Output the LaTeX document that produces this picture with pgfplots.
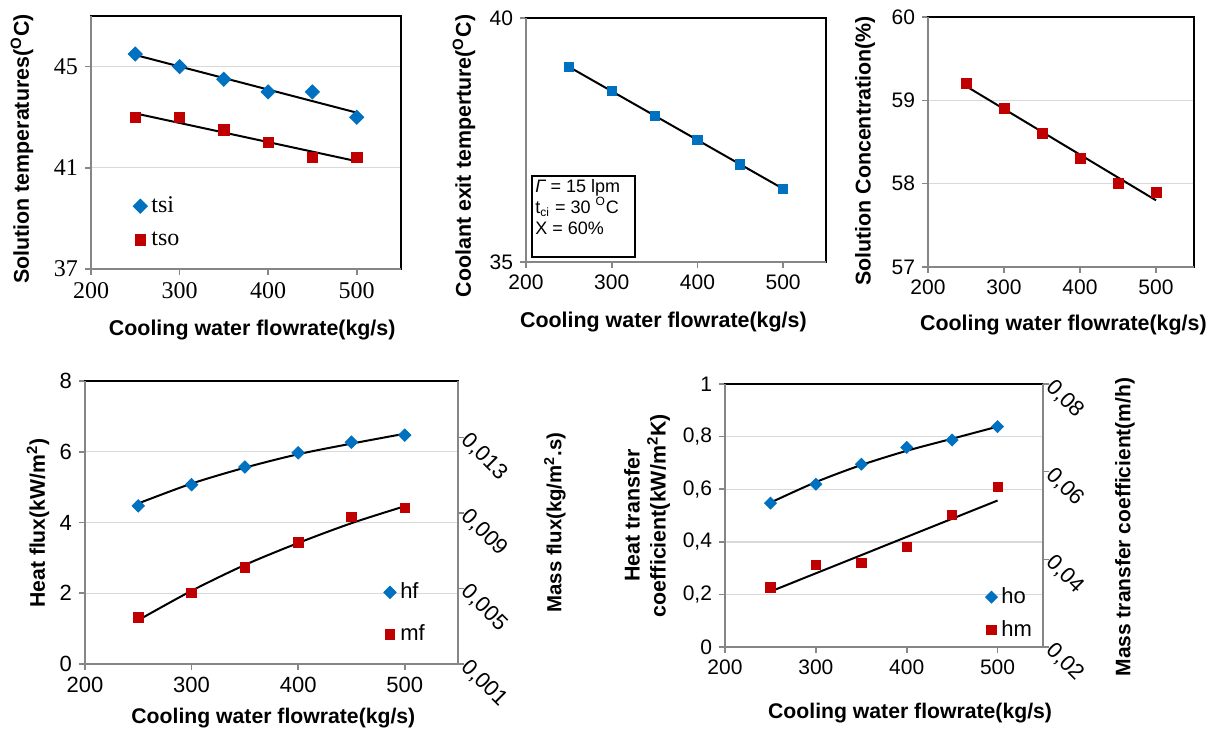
\documentclass[border=0pt]{standalone}
\usepackage{fontspec}
\setmainfont{Liberation Sans}
\newfontfamily\serifnum{Liberation Serif}
\usepackage{pgfplots}
\pgfplotsset{compat=1.18}

\definecolor{xlblue}{RGB}{0,112,192}
\definecolor{xlred}{RGB}{192,0,0}
\definecolor{axgray}{RGB}{134,134,134}
\definecolor{grd}{RGB}{217,217,217}

\pgfplotsset{
  panel/.style={
    scale only axis, anchor=south west,
    xmin=200, xmax=550, xtick={200,300,400,500},
    tick align=outside, xtick pos=bottom, ytick pos=left,
    major tick length=3pt,
    tick style={axgray, line width=0.8pt},
    axis line style={black, line width=0.8pt},
    ymajorgrids, major grid style={grd, line width=0.7pt},
    clip=false,
    /pgf/number format/assume math mode=true,
    x label style={anchor=center},
    y label style={anchor=center},
    legend style={draw=none, fill=none, inner sep=0pt, legend cell align=left},
    legend image code/.code={\draw[mark repeat=2,mark phase=2,##1] plot coordinates {(0pt,0pt) (3pt,0pt) (6pt,0pt)};},
  },
  second/.style={
    scale only axis, anchor=south west,
    xmin=200, xmax=550, axis x line=none,
    axis y line*=right, tick align=outside,
    scaled y ticks=false,
    major tick length=3pt,
    tick style={axgray, line width=0.8pt},
    y axis line style={axgray, line width=0.8pt, -},
    clip=false,
    yticklabel style={rotate=-45, anchor=north west, inner sep=0.5pt, xshift=-0.5pt, yshift=5.5pt},
    y label style={anchor=center},
  },
  dia/.style={only marks, mark=square*, color=xlblue, mark options={rotate=45}, mark size=#1},
  sq/.style={only marks, mark=square*, color=xlred, mark size=#1},
  sqb/.style={only marks, mark=square*, color=xlblue, mark size=#1},
  trend/.style={black, line width=1pt, forget plot},
}

\newcommand{\grayaxes}{\draw[axgray, line width=0.8pt] (rel axis cs:0,1) -- (rel axis cs:0,0) -- (rel axis cs:1,0);}

\begin{document}
\begin{tikzpicture}
\useasboundingbox (0,0) rectangle (607pt,364.5pt);

% solution temperatures
\begin{axis}[panel, at={(45.5pt,230pt)}, width=155pt, height=126.5pt,
  ymin=37, ymax=47, ytick={37,41,45},
  tick label style={font=\serifnum\fontsize{12}{14}\selectfont},
  label style={font=\fontsize{10.7}{12}\selectfont\bfseries},
  xlabel={Cooling water flowrate(kg/s)},
  ylabel={Solution temperatures(\textsuperscript{O}C)},
  x label style={at={(axis description cs:0.52,0)}, yshift=-30.5pt},
  y label style={at={(axis description cs:0,0.474)}, yshift=34.5pt},
  legend style={at={(axis description cs:0.135,0.184)}, anchor=west,
    font=\serifnum\fontsize{12}{14}\selectfont, row sep=4pt}]
\grayaxes
\addplot[dia=2.5pt] coordinates {(250,45.5) (300,45.0) (350,44.5) (400,44.0) (450,44.0) (500,43.0)};
\addlegendentry{tsi}
\addplot[sq=2.6pt] coordinates {(250,43.0) (300,43.0) (350,42.5) (400,42.0) (450,41.4) (500,41.4)};
\addlegendentry{tso}
\addplot[trend] coordinates {(250,45.46) (500,43.18)};
\addplot[trend] coordinates {(250,43.15) (500,41.26)};
\end{axis}

% coolant exit temperature
\begin{axis}[panel, at={(263pt,233.5pt)}, width=150pt, height=122pt,
  ymin=35, ymax=40, ytick={35,40}, ymajorgrids=false,
  tick label style={font=\fontsize{10.5}{12}\selectfont},
  label style={font=\fontsize{10.7}{12}\selectfont\bfseries},
  xlabel={Cooling water flowrate(kg/s)},
  ylabel={Coolant exit temperture(\textsuperscript{O}C)},
  x label style={at={(axis description cs:0.458,0)}, yshift=-30pt},
  y label style={at={(axis description cs:0,0.434)}, yshift=31pt}]
\grayaxes
\addplot[sqb=2.3pt] coordinates {(250,39.0) (300,38.5) (350,38.0) (400,37.5) (450,37.0) (500,36.5)};
\addplot[trend] coordinates {(250,39.0) (500,36.5)};
\draw[black, line width=0.9pt] (axis description cs:0.02,0.0205) rectangle (axis description cs:0.363,0.352);
\node[anchor=north west, align=left, inner sep=1.5pt, font=\fontsize{9}{10.5}\selectfont]
  at (axis description cs:0.02,0.352) {{\itshape Γ} = 15 lpm\\t\textsubscript{ci} = 30 \textsuperscript{O}C\\X = 60\%};
\end{axis}

% solution concentration
\begin{axis}[panel, at={(464pt,231pt)}, width=133pt, height=125pt,
  ymin=57, ymax=60, ytick={57,58,59,60},
  tick label style={font=\fontsize{10.5}{12}\selectfont},
  label style={font=\fontsize{10.7}{12}\selectfont\bfseries},
  xlabel={Cooling water flowrate(kg/s)},
  ylabel={Solution Concentration(\%)},
  x label style={at={(axis description cs:0.509,0)}, yshift=-29pt},
  y label style={at={(axis description cs:0,0.464)}, yshift=31.5pt}]
\grayaxes
\addplot[sq=2.5pt] coordinates {(250,59.2) (300,58.9) (350,58.6) (400,58.3) (450,58.0) (500,57.9)};
\addplot[trend] coordinates {(250,59.17) (500,57.80)};
\end{axis}

% heat flux / mass flux
\begin{axis}[panel, at={(42.5pt,32.5pt)}, width=186.5pt, height=141.5pt,
  ymin=0, ymax=8, ytick={0,2,4,6,8},
  tick label style={font=\fontsize{11}{12}\selectfont},
  label style={font=\fontsize{10.6}{12}\selectfont\bfseries},
  xlabel={Cooling water flowrate(kg/s)},
  ylabel={Heat flux(kW/m\textsuperscript{2})},
  x label style={at={(axis description cs:0.505,0)}, yshift=-27pt},
  y label style={at={(axis description cs:0,0.498)}, yshift=23.5pt},
  legend style={at={(axis description cs:0.80,0.179)}, anchor=west,
    font=\fontsize{11}{12}\selectfont, row sep=7.5pt}]
\draw[axgray, line width=0.8pt] (rel axis cs:0,1) -- (rel axis cs:0,0) -- (rel axis cs:1,0) -- (rel axis cs:1,1);
\addplot[dia=2.2pt] coordinates {(250,4.47) (300,5.07) (350,5.57) (400,5.97) (450,6.27) (500,6.47)};
\addlegendentry{hf}
\addlegendimage{sq=2.4pt}
\addlegendentry{mf}
\addplot[trend, smooth] coordinates {(250,4.54) (300,5.10) (350,5.55) (400,5.93) (450,6.23) (500,6.51)};
\end{axis}
\begin{axis}[second, at={(42.5pt,32.5pt)}, width=186.5pt, height=141.5pt,
  ymin=0.001, ymax=0.016, ytick={0.001,0.005,0.009,0.013},
  yticklabels={{0,001},{0,005},{0,009},{0,013}},
  tick label style={font=\fontsize{11}{12}\selectfont},
  label style={font=\fontsize{10.2}{12}\selectfont\bfseries},
  ylabel={Mass flux(kg/m\textsuperscript{2}.s)},
  y label style={at={(axis description cs:1,0.5)}, yshift=-48.5pt}]
\addplot[sq=2.4pt] coordinates {(250,0.003456) (300,0.004769) (350,0.006119) (400,0.00745) (450,0.0088) (500,0.009269)};
\addplot[trend, smooth] coordinates {(250,0.003325) (300,0.004881) (350,0.00625) (400,0.007413) (450,0.008463) (500,0.009363)};
\end{axis}

% heat / mass transfer coefficients
\begin{axis}[panel, at={(362.5pt,41pt)}, width=159pt, height=131.5pt,
  ymin=0, ymax=1, ytick={0,0.2,0.4,0.6,0.8,1},
  yticklabels={0,{0,2},{0,4},{0,6},{0,8},1},
  tick label style={font=\fontsize{10.5}{12}\selectfont},
  label style={font=\fontsize{10.6}{12}\selectfont\bfseries},
  xlabel={Cooling water flowrate(kg/s)},
  ylabel={Heat transfer\\coefficient(kW/m\textsuperscript{2}K)},
  x label style={at={(axis description cs:0.582,0)}, yshift=-33pt},
  y label style={at={(axis description cs:0,0.5)}, yshift=39pt, align=center,
    font=\fontsize{10.7}{13}\selectfont\bfseries},
  legend style={at={(axis description cs:0.818,0.127)}, anchor=west,
    font=\fontsize{11}{12}\selectfont, row sep=3pt}]
\draw[axgray, line width=0.8pt] (rel axis cs:0,1) -- (rel axis cs:0,0) -- (rel axis cs:1,0) -- (rel axis cs:1,1);
\addplot[dia=2.1pt] coordinates {(250,0.547) (300,0.619) (350,0.695) (400,0.759) (450,0.787) (500,0.838)};
\addlegendentry{ho}
\addlegendimage{sq=2.3pt}
\addlegendentry{hm}
\addplot[trend, smooth] coordinates {(250,0.549) (300,0.627) (350,0.692) (400,0.746) (450,0.792) (500,0.838)};
\end{axis}
\begin{axis}[second, at={(362.5pt,41pt)}, width=159pt, height=131.5pt,
  ymin=0.02, ymax=0.08, ytick={0.02,0.04,0.06,0.08},
  yticklabels={{0,02},{0,04},{0,06},{0,08}},
  tick label style={font=\fontsize{11}{12}\selectfont},
  label style={font=\fontsize{10.5}{12}\selectfont\bfseries},
  ylabel={Mass transfer coefficient(m/h)},
  y label style={at={(axis description cs:1,0.456)}, yshift=-41pt}]
\addplot[sq=2.3pt] coordinates {(250,0.03362) (300,0.03878) (350,0.03914) (400,0.04292) (450,0.05018) (500,0.05648)};
\addplot[trend] coordinates {(250,0.03266) (500,0.05342)};
\end{axis}
\end{tikzpicture}
\end{document}
